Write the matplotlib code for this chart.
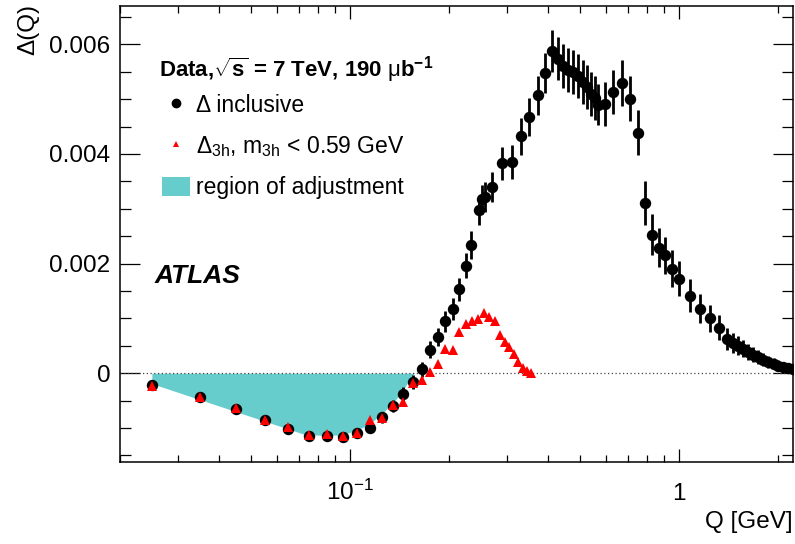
import matplotlib
matplotlib.use("Agg")
import matplotlib.pyplot as plt
from matplotlib.ticker import FixedLocator, FixedFormatter, NullFormatter
from matplotlib.lines import Line2D
from matplotlib.patches import Patch
import numpy as np

plt.rcParams['font.family'] = ['Liberation Sans', 'DejaVu Sans']
plt.rcParams['mathtext.fontset'] = 'custom'
plt.rcParams['mathtext.rm'] = 'Liberation Sans'
plt.rcParams['mathtext.it'] = 'Liberation Sans:italic'
plt.rcParams['mathtext.bf'] = 'Liberation Sans:bold'
plt.rcParams['mathtext.default'] = 'regular'

# ---- data: Delta inclusive (black points) ----
q_incl = [0.025, 0.035, 0.045, 0.055, 0.065, 0.075, 0.085, 0.095, 0.105, 0.115,
          0.125, 0.135, 0.145, 0.155, 0.165, 0.175, 0.185, 0.195, 0.205, 0.215,
          0.225, 0.234, 0.246, 0.252, 0.257, 0.271, 0.289, 0.31, 0.331, 0.351,
          0.372, 0.392, 0.41, 0.43, 0.445, 0.461, 0.477, 0.494, 0.51, 0.524,
          0.54, 0.556, 0.569, 0.596, 0.632, 0.67, 0.71, 0.752, 0.79, 0.83,
          0.871, 0.909, 0.95, 1.0, 1.08, 1.16, 1.24, 1.32, 1.40, 1.46,
          1.515, 1.57, 1.62, 1.68, 1.74, 1.80, 1.87, 1.94, 2.0, 2.07, 2.15, 2.22]
d_incl = [-0.00022, -0.00044, -0.00066, -0.00086, -0.00102, -0.00115, -0.00115, -0.00117, -0.00109, -0.00100,
          -0.00080, -0.00060, -0.00038, -0.00016, 0.00007, 0.00043, 0.00066, 0.00095, 0.00117, 0.00153,
          0.00196, 0.00234, 0.00297, 0.00317, 0.00322, 0.00340, 0.00383, 0.00385, 0.00432, 0.00467,
          0.00507, 0.00548, 0.00588, 0.00574, 0.00561, 0.00554, 0.00549, 0.00543, 0.00532, 0.00522,
          0.00510, 0.00502, 0.00490, 0.00491, 0.00513, 0.00530, 0.00501, 0.00439, 0.00310, 0.00253,
          0.00229, 0.00215, 0.00191, 0.00172, 0.00141, 0.00118, 0.00100, 0.00083, 0.00062, 0.00055,
          0.00050, 0.00045, 0.00039, 0.00034, 0.00030, 0.00025, 0.00021, 0.00017, 0.00014, 0.00011, 0.00009, 0.00008]
e_incl = [0.00003, 0.00003, 0.00004, 0.00004, 0.00005, 0.00005, 0.00006, 0.00006, 0.00007, 0.00008,
          0.00010, 0.00011, 0.00012, 0.00013, 0.00014, 0.00015, 0.00017, 0.00019, 0.00020, 0.00021,
          0.00023, 0.00025, 0.00026, 0.00027, 0.00027, 0.00028, 0.00030, 0.00031, 0.00033, 0.00035,
          0.00036, 0.00037, 0.00039, 0.00039, 0.00040, 0.00040, 0.00040, 0.00040, 0.00040, 0.00040,
          0.00040, 0.00040, 0.00038, 0.00040, 0.00040, 0.00042, 0.00041, 0.00041, 0.00040, 0.00038,
          0.00036, 0.00034, 0.00033, 0.00032, 0.00030, 0.00027, 0.00025, 0.00023, 0.00020, 0.00018,
          0.00017, 0.00016, 0.00015, 0.00014, 0.00013, 0.00012, 0.00011, 0.00010, 0.00010, 0.00009, 0.00009, 0.00008]

# ---- data: Delta_3h, m_3h < 0.59 GeV (red triangles) ----
q_3h = [0.025, 0.035, 0.045, 0.055, 0.065, 0.075, 0.085, 0.095, 0.105, 0.115,
        0.125, 0.135, 0.145, 0.155, 0.165, 0.175, 0.185, 0.195, 0.205, 0.215,
        0.225, 0.235, 0.245, 0.255, 0.265, 0.275, 0.285, 0.295, 0.305, 0.315,
        0.325, 0.335, 0.345, 0.355]
d_3h = [-0.00024, -0.00043, -0.00064, -0.00085, -0.00099, -0.00112, -0.00111, -0.00114, -0.00109, -0.00086,
        -0.00081, -0.00058, -0.00052, -0.00018, -0.00013, 0.00002, 0.00016, 0.00045, 0.00043, 0.00075,
        0.00089, 0.00095, 0.00099, 0.00110, 0.00103, 0.00095, 0.00069, 0.00057, 0.00048, 0.00035,
        0.00021, 0.00010, 0.00004, 0.00000]

# ---- region of adjustment (lower boundary) ----
adj_q = [0.025, 0.073, 0.0813, 0.0935, 0.105, 0.115, 0.1265, 0.136, 0.145, 0.152, 0.157]
adj_d = [-0.00019, -0.00112, -0.00113, -0.00113, -0.00104, -0.00092, -0.00071, -0.00052, -0.00031, -0.00010, 0.0]

x_major = [0.1, 1.0]
x_major_labels = ['$10^{-1}$', '1']
y_major = [0.0, 0.002, 0.004, 0.006]
y_major_labels = ['0', '0.002', '0.004', '0.006']

cyan = '#66CCCC'

fig = plt.figure(figsize=(7.95, 5.44), dpi=100)
ax = fig.add_axes([120/795, 1-462/544, (793-120)/795, (462-6)/544])

ax.set_xscale('log')
ax.set_xlim(0.02, 2.22)
ax.set_ylim(-0.00162, 0.0067)

ax.fill_between(adj_q, adj_d, 0, color=cyan, linewidth=0, zorder=1)
ax.axhline(0, color='#444444', linestyle=(0, (1, 2)), linewidth=0.9, zorder=2)

ax.errorbar(q_incl, d_incl, yerr=e_incl, fmt='o', color='black', markersize=7.2,
            elinewidth=2.0, capsize=0, zorder=3)
ax.plot(q_3h, d_3h, linestyle='none', marker='^', color='#FF0000', markersize=7.2,
        markeredgewidth=0, zorder=4)

# ticks
ax.xaxis.set_major_locator(FixedLocator(x_major))
ax.xaxis.set_major_formatter(FixedFormatter(x_major_labels))
minor_x = [v * d for d in [0.01, 0.1, 1.0] for v in range(2, 10)]
ax.xaxis.set_minor_locator(FixedLocator(minor_x))
ax.xaxis.set_minor_formatter(NullFormatter())
ax.yaxis.set_major_locator(FixedLocator(y_major))
ax.yaxis.set_major_formatter(FixedFormatter(y_major_labels))
ax.yaxis.set_minor_locator(FixedLocator(list(np.arange(-0.0015, 0.0067, 0.0005))))

ax.tick_params(which='both', direction='in', top=True, right=True, width=0.9, colors='black')
ax.tick_params(axis='x', which='major', length=9.4, labelsize=17.5, pad=27)
ax.tick_params(axis='x', which='minor', length=4.7)
ax.tick_params(axis='y', which='major', length=14.4, labelsize=17.5, pad=7)
ax.tick_params(axis='y', which='minor', length=8)
for lab in ax.get_xticklabels():
    lab.set_verticalalignment('baseline')
for s in ax.spines.values():
    s.set_linewidth(1.1)

# axis titles
fig.text(793/795, 1-522/544, 'Q [GeV]', ha='right', va='center', fontsize=17.5)
fig.text(28/795, 1-4/544, 'Δ(Q)', ha='center', va='top', rotation=90, fontsize=17.5)

# legend
fig.text(159/795, 1-70/544, r'Data,$\mathbf{\sqrt{s}}$ = 7 TeV, 190 $\mathrm{\mu}$b$^{\mathbf{-1}}$',
         ha='left', va='center', fontsize=16, fontweight='bold')
handles = [Line2D([], [], linestyle='none', marker='o', color='black', markersize=6),
           Line2D([], [], linestyle='none', marker='^', color='#FF0000', markersize=4.5, markeredgewidth=0),
           Patch(facecolor=cyan, edgecolor='none')]
labels = ['Δ inclusive', r'Δ$_{3h}$, m$_{3h}$ < 0.59 GeV', 'region of adjustment']
fig.legend(handles, labels, loc='upper left', bbox_to_anchor=(162/795, 1-94/544),
           frameon=False, fontsize=16.5, borderpad=0, borderaxespad=0,
           handlelength=1.2, handleheight=0.95, handletextpad=0.3, labelspacing=0.75)

fig.text(155/795, 1-276/544, 'ATLAS', ha='left', va='center', fontsize=19,
         fontweight='bold', fontstyle='italic')

fig.savefig('out.png', dpi=100)
